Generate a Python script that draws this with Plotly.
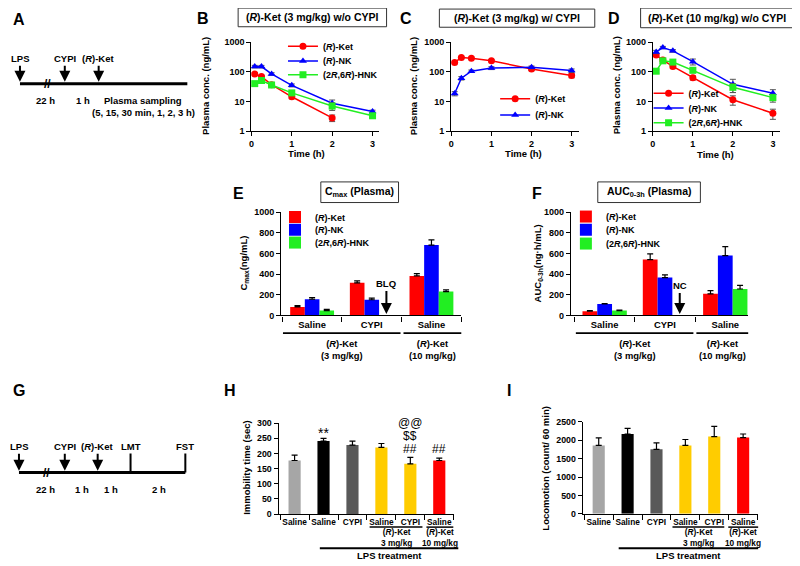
import plotly.graph_objects as go

# ---------------- data ----------------
times_h = [0.083, 0.25, 0.5, 1, 2, 3]
time_ticks = [0, 1, 2, 3]
log_ticks = [1, 10, 100, 1000]
log_ticktext = ["1", "10", "100", "1000"]

# Panel B: (R)-Ket 3 mg/kg w/o CYPI
B_ket = [85, 69, 37, 14.4, 2.8, None]
B_ket_err = [8, 7, 4, 2, 0.7, 0]
B_nk = [150, 150, 85, 35, 8.7, 4.6]
B_nk_err = [15, 15, 8, 4, 2.5, 0.5]
B_hnk = [40, 51, 36, 19.5, 7, 3.3]
B_hnk_err = [5, 8, 4, 3, 2, 0.4]

# Panel C: (R)-Ket 3 mg/kg w/ CYPI
C_ket = [208, 303, 288, 235, 125, 75]
C_ket_err = [20, 25, 20, 20, 15, 12]
C_nk = [18.5, 61, 105, 134, 142, 110]
C_nk_err = [3, 8, 10, 15, 15, 15]

# Panel D: (R)-Ket 10 mg/kg w/o CYPI
D_ket = [370, 250, 152, 63, 11.5, 4]
D_ket_err = [40, 30, 20, 10, 4, 1.5]
D_nk = [470, 660, 510, 220, 38, 19]
D_nk_err = [60, 60, 50, 50, 18, 6]
D_hnk = [105, 235, 213, 113, 30, 13.5]
D_hnk_err = [15, 40, 25, 20, 10, 4]

# Panel E: Cmax ; Panel F: AUC0-3h
group_labels = ["Saline", "CYPI", "Saline"]
E_ket = [83, 316, 383]
E_ket_err = [12, 19, 22]
E_nk = [158, 152, 681]
E_nk_err = [16, 16, 50]
E_hnk = [47, None, 231]
E_hnk_err = [13, 0, 16]

F_ket = [41, 541, 209]
F_ket_err = [6, 54, 31]
F_nk = [111, 367, 579]
F_nk_err = [5, 25, 86]
F_hnk = [47, None, 256]
F_hnk_err = [5, 0, 35]

# Panel H: immobility ; Panel I: locomotion
beh_labels = ["Saline", "Saline", "CYPI", "Saline", "CYPI", "Saline"]
H_vals = [177, 241, 228, 220, 166, 177]
H_err = [18, 9, 13, 13, 21, 8]
I_vals = [1859, 2170, 1752, 1859, 2100, 2073]
I_err = [204, 152, 177, 161, 276, 97]

# ---------------- styles ----------------
# page body has an 8px default margin: the figure is offset by 8px
OFF = 8
W, HT = 800 - OFF, 566 - OFF
FONT = "Liberation Sans, Arial, sans-serif"
RED, BLUE, GREEN = "#ff0000", "#0000ff", "#22ee22"
beh_colors = ["#a6a6a6", "#000000", "#595959", "#ffcc00", "#ffcc00", "#ff0000"]


def px(x):
    return (x - OFF) / W


def py(y):
    return 1 - (y - OFF) / HT


def f(size=9, bold=True, color="black"):
    return dict(family=FONT, size=size, color=color, weight="bold" if bold else "normal")


fig = go.Figure()
legends = {}
LEG_DX, LEG_DY = 20, 16


def add_legend(key_cx, item_y):
    name = "legend" if not legends else "legend%d" % (len(legends) + 1)
    legends[name] = dict(x=px(key_cx - LEG_DX), y=py(item_y - LEG_DY), xanchor="left", yanchor="top",
                         bgcolor="rgba(0,0,0,0)", font=f(9), itemwidth=30, borderwidth=0)
    return name


def line_trace(x, y, err, name, color, symbol, xa, ya, key_cx, item_y):
    fig.add_trace(go.Scatter(
        x=x, y=y, name=name, mode="lines+markers",
        line=dict(color=color, width=1.5),
        marker=dict(color=color, symbol=symbol, size=7),
        error_y=dict(type="data", array=err, color="#555555", thickness=1, width=3),
        xaxis=xa, yaxis=ya, legend=add_legend(key_cx, item_y), cliponaxis=False,
    ))


KET = "(<i>R</i>)-Ket"
NK = "(<i>R</i>)-NK"
HNK = "(2<i>R</i>,6<i>R</i>)-HNK"

line_trace(times_h, B_ket, B_ket_err, KET, RED, "circle", "x", "y", 301, 43)
line_trace(times_h, B_nk, B_nk_err, NK, BLUE, "triangle-up", "x", "y", 301, 58)
line_trace(times_h, B_hnk, B_hnk_err, HNK, GREEN, "square", "x", "y", 301, 72)

line_trace(times_h, C_ket, C_ket_err, KET, RED, "circle", "x2", "y2", 514, 96.5)
line_trace(times_h, C_nk, C_nk_err, NK, BLUE, "triangle-up", "x2", "y2", 514, 113)

line_trace(times_h, D_ket, D_ket_err, KET, RED, "circle", "x3", "y3", 668, 91)
line_trace(times_h, D_nk, D_nk_err, NK, BLUE, "triangle-up", "x3", "y3", 668, 106)
line_trace(times_h, D_hnk, D_hnk_err, HNK, GREEN, "square", "x3", "y3", 668, 121)

BW = 0.245


def bar_trace(y, err, name, color, off, xa, ya, key_cx, item_y):
    fig.add_trace(go.Bar(
        x=[0, 1, 2], y=y, name=name, width=BW, offset=off,
        marker=dict(color=color, line=dict(width=0)),
        error_y=dict(type="data", array=err, arrayminus=[0] * len(err), symmetric=False,
                     color="black", thickness=1.2, width=3),
        xaxis=xa, yaxis=ya, legend=add_legend(key_cx, item_y),
    ))


bar_trace(E_ket, E_ket_err, KET, RED, -1.5 * BW, "x4", "y4", 293, 217)
bar_trace(E_nk, E_nk_err, NK, BLUE, -0.5 * BW, "x4", "y4", 293, 230)
bar_trace(E_hnk, E_hnk_err, HNK, GREEN, 0.5 * BW, "x4", "y4", 293, 243)

bar_trace(F_ket, F_ket_err, KET, RED, -1.5 * BW, "x5", "y5", 585, 216.5)
bar_trace(F_nk, F_nk_err, NK, BLUE, -0.5 * BW, "x5", "y5", 585, 230)
bar_trace(F_hnk, F_hnk_err, HNK, GREEN, 0.5 * BW, "x5", "y5", 585, 244)

for vals, err, xa, ya in [(H_vals, H_err, "x6", "y6"), (I_vals, I_err, "x7", "y7")]:
    fig.add_trace(go.Bar(
        x=list(range(len(vals))), y=vals, width=0.42, showlegend=False,
        marker=dict(color=beh_colors, line=dict(width=0)),
        error_y=dict(type="data", array=err, arrayminus=[0] * len(err), symmetric=False,
                     color="black", thickness=1.2, width=3),
        xaxis=xa, yaxis=ya,
    ))


# ---------------- axes ----------------
def ax(**kw):
    base = dict(showline=True, linecolor="black", linewidth=1.3, ticks="outside", ticklen=4,
                tickwidth=1.2, tickcolor="black", showgrid=False, zeroline=False,
                tickfont=f(9), fixedrange=True)
    base.update(kw)
    return base


def cat_ax(dom, rng, anchor, labels, size):
    return ax(domain=dom, range=rng, anchor=anchor, tickmode="array",
              tickvals=list(range(len(labels))), ticktext=labels, ticklen=0,
              tickfont=f(size),
              minor=dict(ticks="outside", ticklen=5, tickwidth=1.2, tickcolor="black",
                         tick0=0.5, dtick=1, showgrid=False))


logy = dict(type="log", range=[0, 3], tickmode="array", tickvals=log_ticks, ticktext=log_ticktext)
timex = dict(tickmode="array", tickvals=time_ticks)

layout = dict(
    width=W, height=HT, margin=dict(l=0, r=0, t=0, b=0), autosize=False,
    paper_bgcolor="white", plot_bgcolor="rgba(0,0,0,0)",
    font=f(9), barmode="overlay",
    xaxis=ax(domain=[px(249.3), px(377)], anchor="y", range=[0, 3.15], **timex),
    yaxis=ax(domain=[py(128.3), py(37.7)], anchor="x", **logy),
    xaxis2=ax(domain=[px(450), px(578)], anchor="y2", range=[0, 3.18], **timex),
    yaxis2=ax(domain=[py(128.3), py(37.7)], anchor="x2", **logy),
    xaxis3=ax(domain=[px(652.3), px(780)], anchor="y3", range=[0, 3.18], **timex),
    yaxis3=ax(domain=[py(128.3), py(37.7)], anchor="x3", **logy),
    xaxis4=cat_ax([px(279.3), px(460)], [-0.517, 2.5], "y4", group_labels, 9.4),
    yaxis4=ax(domain=[py(316), py(210.7)], anchor="x4", range=[0, 1000], dtick=200),
    xaxis5=cat_ax([px(570), px(748)], [-0.56, 2.38], "y5", group_labels, 9.4),
    yaxis5=ax(domain=[py(316), py(210.7)], anchor="x5", range=[0, 1000], dtick=200),
    xaxis6=cat_ax([px(276.7), px(453)], [-0.55, 5.52], "y6", beh_labels, 8.3),
    yaxis6=ax(domain=[py(518.3), py(425.7)], anchor="x6", range=[0, 300], dtick=50, tickfont=f(8.8)),
    xaxis7=cat_ax([px(582), px(758)], [-0.55, 5.52], "y7", beh_labels, 8.3),
    yaxis7=ax(domain=[py(518), py(424.3)], anchor="x7", range=[0, 2500], dtick=500, tickfont=f(8.8)),
)
layout.update(legends)
fig.update_layout(**layout)

# ---------------- annotations & shapes ----------------
ann = []
shp = []


def text(x, y, t, size=9, bold=True, angle=0, xanchor="center"):
    ann.append(dict(x=px(x), y=py(y), xref="paper", yref="paper", text=t, showarrow=False,
                    font=f(size, bold), textangle=angle, xanchor=xanchor, yanchor="middle"))


def hline(x0, x1, y, w=1.5):
    shp.append(dict(type="line", xref="paper", yref="paper", x0=px(x0), x1=px(x1),
                    y0=py(y), y1=py(y), line=dict(color="black", width=w)))


def box(x0, x1, y0, y1):
    shp.append(dict(type="rect", xref="paper", yref="paper", x0=px(x0), x1=px(x1),
                    y0=py(y1), y1=py(y0), line=dict(color="#333333", width=1)))


def arrow(x, y, t, dy, head=2):
    ann.append(dict(x=px(x), y=py(y), xref="paper", yref="paper", text=t, showarrow=True,
                    ax=0, ay=-dy, arrowhead=head, arrowsize=1.1, arrowwidth=2, arrowcolor="black",
                    font=f(9.5)))


# panel letters
text(8, 15, "A", 16, xanchor="left")
text(8, 392, "G", 16, xanchor="left")
for L, x, y in [("B", 201, 14), ("C", 405, 14), ("D", 613, 14),
                ("E", 236, 192), ("F", 536, 192), ("H", 228, 392), ("I", 508, 392)]:
    text(x, y, L, 16)

# title boxes
box(236, 385, 3, 22)
text(310.5, 12.5, "(<i>R</i>)-Ket (3 mg/kg) w/o CYPI", 10.5)
box(438, 594, 4, 22.5)
text(516, 13, "(<i>R</i>)-Ket (3 mg/kg) w/ CYPI", 10.5)
box(640, 793, 3, 23)
text(716.5, 13, "(<i>R</i>)-Ket (10 mg/kg) w/o CYPI", 10.5)
box(319, 397, 180, 201)
text(358, 190.5, "C<sub>max</sub> (Plasma)", 10.5)
box(597, 700, 180, 201)
text(648.5, 190.5, "AUC<sub>0-3h</sub> (Plasma)", 10.5)

# axis titles
text(203, 82, "Plasma conc. (ng/mL)", 9.5, angle=-90)
text(412, 82, "Plasma conc. (ng/mL)", 9.5, angle=-90)
text(616, 82, "Plasma conc. (ng/mL)", 9.5, angle=-90)
text(305, 151, "Time (h)", 9.5)
text(522, 151, "Time (h)", 9.5)
text(715, 152, "Time (h)", 9.5)
text(242, 263, "C<sub>max</sub>(ng/mL)", 9.5, angle=-90)
text(537, 263, "AUC<sub>0-3h</sub>(ng·h/mL)", 9.5, angle=-90)
text(245, 471, "Immobility time (sec)", 9.5, angle=-90)
text(545, 471, "Locomotion (count/ 60 min)", 9.5, angle=-90)

# E / F group brackets
for (a0, a1, b0, b1) in [(281, 399, 402, 460), (575, 693, 696, 748)]:
    hline(a0, a1, 334, 1.8)
    hline(b0, b1, 334, 1.8)
    text((a0 + a1) / 2, 351, "(<i>R</i>)-Ket<br>(3 mg/kg)", 9.4)
    text((b0 + b1) / 2, 351, "(<i>R</i>)-Ket<br>(10 mg/kg)", 9.4)

# BLQ / NC arrows
ann.append(dict(x=1 + BW, y=15, xref="x4", yref="y4", text="BLQ", showarrow=True, ax=0, ay=-30,
                arrowhead=2, arrowsize=1.1, arrowwidth=2, arrowcolor="black", font=f(9.5)))
ann.append(dict(x=1 + BW, y=15, xref="x5", yref="y5", text="NC", showarrow=True, ax=0, ay=-28,
                arrowhead=2, arrowsize=1.1, arrowwidth=2, arrowcolor="black", font=f(9.5)))

# H / I brackets
for (u0, u1, v0, v1, l0, l1) in [(368, 421, 425, 452, 318, 457), (672, 724, 728, 758, 618, 758)]:
    hline(u0, u1, 531.5, 1.5)
    hline(v0, v1, 531.5, 1.5)
    text((u0 + u1) / 2, 542, "(<i>R</i>)-Ket<br>3 mg/kg", 8.3)
    text((v0 + v1) / 2, 542, "(<i>R</i>)-Ket<br>10 mg/kg", 8.3)
    hline(l0, l1, 553, 2.2)
    text((l0 + l1) / 2, 560.5, "LPS treatment", 9.5)

# significance marks
for xv, yv, t, s in [(1, 268, "**", 14), (4, 214, "##", 12), (4, 257, "$$", 12),
                     (4, 300, "@@", 12), (5, 214, "##", 12)]:
    ann.append(dict(x=xv, y=yv, xref="x6", yref="y6", text=t, showarrow=False,
                    font=f(s, False), yanchor="middle"))

# timeline A
hline(17, 185, 80, 3)
arrow(17, 78, "LPS", 23)
arrow(62, 78, "CYPI", 23)
arrow(96, 78, "(<i>R</i>)-Ket", 23)
text(45, 80, "//", 12)
text(43, 97, "22 h", 9.5)
text(80, 97, "1 h", 9.5)
text(140, 97, "Plasma sampling", 9.5)
text(141, 109, "(5, 15, 30 min, 1, 2, 3 h)", 9.5)

# timeline G
hline(16, 183, 476, 3)
arrow(16, 474, "LPS", 24)
arrow(62, 474, "CYPI", 24)
arrow(95, 474, "(<i>R</i>)-Ket", 24)
arrow(128, 476, "LMT", 26, head=0)
arrow(183, 476, "FST", 26, head=0)
text(44, 476, "//", 12)
text(43, 493, "22 h", 9.5)
text(79, 493, "1 h", 9.5)
text(108, 493, "1 h", 9.5)
text(157, 493, "2 h", 9.5)

fig.update_layout(annotations=ann, shapes=shp)
fig.write_html("out.html")
